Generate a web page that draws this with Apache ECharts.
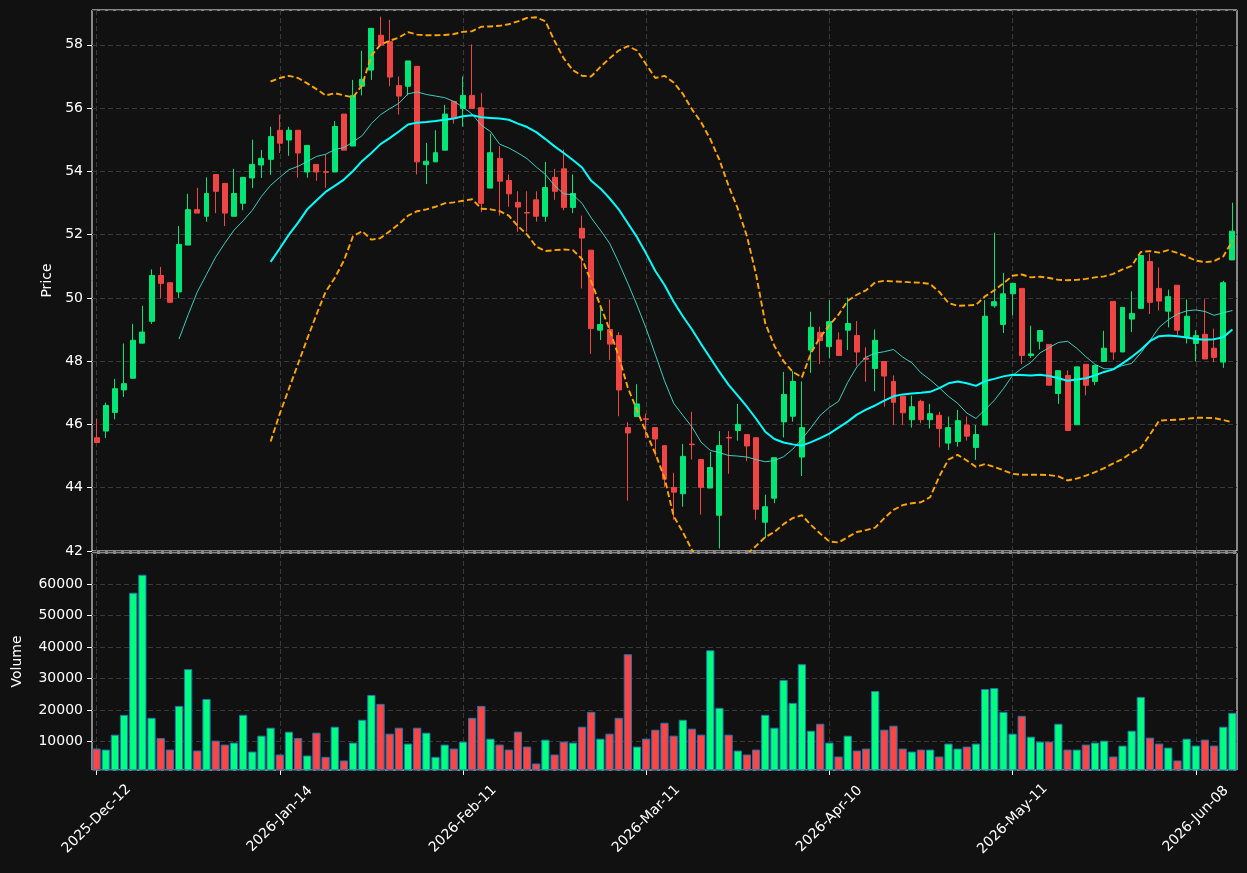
<!DOCTYPE html>
<html>
<head>
<meta charset="utf-8">
<script src="https://cdn.jsdelivr.net/npm/echarts@6/dist/echarts.min.js"></script>
<style>
html,body{margin:0;padding:0;background:#111111;}
#chart{width:1247px;height:873px;}
</style>
</head>
<body>
<div id="chart"></div>
<script>
// ---- trading calendar (category labels) ----
const startDate = '2025-12-12';
const numDays = 125;
const holidays = ['2025-12-25','2025-12-26','2026-01-01','2026-04-03','2026-04-06','2026-05-01'];
const monthNames = ['Jan','Feb','Mar','Apr','May','Jun','Jul','Aug','Sep','Oct','Nov','Dec'];

// ---- OHLC ----
const open = [45.58,45.79,46.38,47.09,47.46,48.57,49.26,50.71,50.48,50.19,51.67,52.79,52.58,53.90,53.62,52.58,52.99,53.79,54.20,54.38,
55.30,54.99,55.30,53.98,54.22,53.99,53.98,55.81,54.80,56.69,57.20,58.30,58.10,56.71,56.69,57.32,54.21,54.30,54.67,56.21,
55.99,56.40,56.01,53.47,54.41,53.71,53.02,52.70,53.10,52.58,53.81,54.08,52.86,52.20,51.51,48.98,49.00,48.81,45.90,46.25,
46.18,45.90,45.33,44.01,43.81,45.38,44.89,43.99,43.13,45.59,45.81,45.68,45.58,42.91,43.67,46.08,46.26,44.97,48.35,48.91,
48.46,48.67,48.98,48.81,48.10,47.77,47.99,47.36,46.89,46.15,46.73,46.15,46.29,45.41,45.46,45.98,45.27,45.98,49.75,49.16,
50.13,50.30,48.18,48.63,48.53,46.98,47.55,45.99,47.90,47.36,47.99,49.89,48.29,49.33,49.67,51.15,50.30,49.58,50.40,48.78,
48.56,48.85,48.41,47.97,51.20];
const high = [46.18,46.69,47.44,48.56,49.18,49.75,50.90,50.98,50.48,52.27,53.29,53.48,53.81,53.90,53.62,54.08,53.81,55.00,54.68,55.41,
55.79,55.41,55.30,54.82,54.22,54.53,55.59,55.81,56.89,57.81,58.52,58.89,58.79,57.00,57.49,57.32,54.90,55.30,56.10,56.21,
57.00,58.01,56.48,55.19,54.80,53.90,53.37,53.37,53.37,54.30,54.08,54.69,53.90,52.60,51.51,49.77,49.95,48.92,46.07,47.27,
46.34,45.90,45.33,44.47,45.38,46.40,44.89,45.13,45.79,45.79,46.65,45.68,45.58,43.78,44.95,47.66,47.69,47.36,49.56,49.09,
49.93,48.91,50.01,49.27,48.44,49.00,47.99,47.55,46.89,46.91,46.78,46.65,46.40,46.25,46.46,46.25,45.98,49.93,52.06,50.79,
50.46,50.30,49.12,48.97,48.53,47.70,47.71,47.82,47.90,47.86,48.96,49.89,49.70,50.21,51.34,51.40,50.96,50.26,50.40,49.95,
48.98,49.95,49.03,50.54,53.01];
const low = [45.43,45.57,46.16,46.87,47.46,48.57,49.18,49.99,49.86,49.99,51.67,52.68,52.41,52.68,52.27,52.58,52.77,53.47,53.79,53.89,
54.58,54.49,53.80,53.80,53.70,53.48,53.98,54.67,54.80,56.40,56.89,57.99,56.69,55.79,56.40,53.90,53.60,54.30,54.67,55.51,
55.41,55.99,52.71,53.47,52.60,52.88,52.09,52.09,52.41,52.41,53.10,52.77,52.68,50.30,48.23,48.67,48.04,46.26,43.59,46.25,
45.57,44.99,44.03,42.99,43.40,44.89,43.15,43.99,42.08,44.44,45.49,44.84,42.99,42.41,43.51,45.59,46.09,44.37,47.63,47.91,
48.10,48.18,48.35,47.86,47.35,47.05,46.56,45.99,45.99,45.90,46.04,45.87,45.27,45.19,45.30,45.49,44.88,45.98,49.69,48.89,
49.45,47.91,48.10,48.37,47.24,46.65,45.79,45.99,46.92,47.24,47.99,48.04,48.29,48.92,49.67,49.49,49.60,49.07,48.81,48.56,
47.99,48.07,47.97,47.79,51.20];
const close = [45.43,46.60,47.13,47.29,48.66,48.92,50.71,50.46,49.86,51.69,52.79,52.68,53.30,53.37,52.68,53.30,53.81,54.22,54.41,55.10,
54.89,55.30,54.58,54.82,53.98,53.97,55.42,54.67,56.40,56.91,58.52,57.99,56.98,56.38,57.49,54.30,54.32,54.59,55.81,55.68,
56.40,55.99,52.99,54.59,53.69,53.29,52.87,52.68,52.58,53.49,53.37,52.86,53.30,51.89,49.03,49.16,48.54,47.09,45.73,46.65,
46.16,45.54,44.27,43.86,44.99,45.36,44.01,44.64,45.33,45.57,46.00,45.32,43.32,43.40,44.95,46.95,47.36,45.90,49.07,48.65,
49.25,48.18,49.19,48.29,48.06,48.66,47.53,46.70,46.37,46.56,46.15,46.34,45.87,45.90,46.12,45.63,45.68,49.42,49.88,50.13,
50.46,48.18,48.23,48.97,47.24,47.70,45.81,47.82,47.24,47.86,48.41,48.29,49.70,49.51,51.34,49.86,49.90,50.04,48.98,49.42,
48.81,48.07,48.12,50.48,52.11];

// ---- volume ----
const volume = [7800,7480,12200,18500,57200,62900,17550,11150,7480,21330,32980,7170,23540,10310,9060,9690,18500,6850,11890,14410,
5910,13150,11150,5590,12830,5170,14720,4020,9690,16930,24800,21960,12520,14410,9370,14410,12830,5170,9060,7800,
10000,17550,21330,10940,9060,7480,13150,8430,3070,10630,5910,10000,9690,14720,19440,10940,12520,17550,37700,8430,
10940,13780,15980,11890,16930,14100,12200,38960,20700,12200,7170,5910,7480,18500,14410,29520,22280,34550,13460,15670,
9690,5280,11890,7170,7800,26050,13780,15040,7800,6850,7480,7480,5280,9370,7800,8430,9370,26680,27000,19440,
12520,18180,11570,10000,10000,15670,7480,7480,9060,9690,10310,5280,8740,13460,24170,11260,9370,8110,4020,10940,
8740,10630,8740,14720,19130];

// ---- indicator lines (null = not drawn) ----
const N = null;
const ma10 = [N,N,N,N,N,N,N,N,N,48.70,49.47,50.19,50.74,51.29,51.73,52.14,52.44,52.77,53.21,53.56,
53.81,54.05,54.16,54.31,54.47,54.54,54.69,54.75,54.93,55.13,55.51,55.79,55.98,56.15,56.45,56.51,56.43,56.38,56.33,56.21,
56.03,55.81,55.46,55.26,54.86,54.74,54.58,54.40,54.14,53.90,53.55,53.29,53.26,52.99,52.53,52.14,51.73,51.12,50.46,49.77,
49.03,48.21,47.38,46.67,46.29,45.92,45.44,45.18,45.11,45.02,45.00,44.97,44.89,44.82,44.86,44.98,45.22,45.54,45.90,46.29,
46.54,46.73,47.33,47.82,48.13,48.25,48.30,48.37,48.13,47.95,47.63,47.41,47.16,46.89,46.67,46.36,46.19,46.47,46.76,47.13,
47.55,47.77,47.96,48.26,48.43,48.59,48.63,48.41,48.14,47.90,47.76,47.76,47.86,47.93,48.26,48.65,49.07,49.31,49.49,49.59,
49.62,49.57,49.45,49.53,49.60];
const ma20 = [N,N,N,N,N,N,N,N,N,N,N,N,N,N,N,N,N,N,N,51.14,
51.56,52.00,52.38,52.80,53.08,53.35,53.54,53.74,54.01,54.33,54.58,54.86,55.05,55.26,55.48,55.54,55.56,55.59,55.63,55.67,
55.74,55.77,55.71,55.69,55.67,55.63,55.51,55.40,55.24,55.02,54.79,54.58,54.36,54.12,53.70,53.46,53.15,52.80,52.36,51.92,
51.40,50.85,50.41,49.88,49.42,49.00,48.54,48.10,47.66,47.25,46.91,46.56,46.18,45.77,45.54,45.43,45.37,45.33,45.44,45.57,
45.71,45.90,46.09,46.31,46.47,46.60,46.75,46.89,46.95,46.98,47.00,47.03,47.15,47.30,47.36,47.30,47.22,47.37,47.44,47.52,
47.57,47.56,47.55,47.57,47.53,47.46,47.38,47.42,47.46,47.55,47.66,47.74,47.93,48.13,48.36,48.63,48.79,48.81,48.79,48.75,
48.70,48.68,48.69,48.76,49.00];
const upperBand = [N,N,N,N,N,N,N,N,N,N,N,N,N,N,N,N,N,N,N,56.84,
56.95,57.02,56.95,56.78,56.60,56.40,56.47,56.40,56.34,56.73,57.66,58.01,58.13,58.23,58.40,58.32,58.30,58.30,58.31,58.34,
58.41,58.43,58.57,58.58,58.60,58.65,58.74,58.85,58.87,58.74,58.12,57.57,57.20,57.02,57.00,57.30,57.57,57.82,57.96,57.82,
57.38,56.95,57.02,56.81,56.45,55.96,55.55,55.02,54.36,53.54,52.82,51.95,50.74,49.20,48.48,48.00,47.66,47.49,48.26,48.76,
49.14,49.47,49.91,50.10,50.24,50.49,50.54,50.52,50.51,50.49,50.48,50.44,50.19,49.84,49.75,49.76,49.78,50.05,50.24,50.46,
50.70,50.74,50.65,50.67,50.63,50.57,50.56,50.57,50.60,50.65,50.68,50.76,50.90,51.01,51.45,51.48,51.43,51.51,51.42,51.31,
51.18,51.13,51.16,51.31,51.81];
const lowerBand = [N,N,N,N,N,N,N,N,N,N,N,N,N,N,N,N,N,N,N,45.46,
46.34,47.13,47.92,48.71,49.47,50.19,50.63,51.18,51.95,52.11,51.84,51.89,52.11,52.33,52.60,52.74,52.80,52.88,52.99,53.02,
53.07,53.12,52.82,52.80,52.74,52.60,52.27,52.00,51.62,51.48,51.51,51.53,51.51,51.23,50.52,49.75,49.00,48.15,47.16,46.45,
45.74,45.08,44.31,43.10,42.60,42.03,41.60,41.30,41.10,41.20,41.50,41.90,42.16,42.44,42.60,42.85,43.04,43.13,42.82,42.55,
42.30,42.27,42.44,42.60,42.66,42.74,43.04,43.30,43.45,43.51,43.54,43.70,44.36,44.89,45.04,44.86,44.66,44.75,44.66,44.55,
44.44,44.41,44.41,44.41,44.40,44.36,44.23,44.29,44.38,44.49,44.62,44.77,44.91,45.11,45.26,45.68,46.12,46.14,46.15,46.18,
46.21,46.21,46.20,46.14,46.07];

// ---- build categories ----
const dates = [];
(function(){
  let d = new Date(startDate + 'T00:00:00Z');
  while (dates.length < numDays) {
    const wd = d.getUTCDay();
    const iso = d.toISOString().slice(0,10);
    if (wd !== 0 && wd !== 6 && holidays.indexOf(iso) < 0) {
      const dd = String(d.getUTCDate()).padStart(2,'0');
      dates.push(d.getUTCFullYear() + '-' + monthNames[d.getUTCMonth()] + '-' + dd);
    }
    d = new Date(d.getTime() + 86400000);
  }
})();

const UP = '#00E676', DOWN = '#F04545';
const VUP = '#00FF7F', VDOWN = '#FF4444';
const candleData = open.map((o,i)=>[o, close[i], low[i], high[i]]);
const volData = volume.map((v,i)=>({value: v, itemStyle: {color: close[i] >= open[i] ? VUP : VDOWN}}));

const FONT = 'DejaVu Sans';
const gridLine = {show: true, lineStyle: {color: '#3a3a3a', type: [5, 3], width: 1}};

const chart = echarts.init(document.getElementById('chart'), null, {renderer: 'canvas'});
chart.setOption({
  backgroundColor: '#111111',
  animation: false,
  textStyle: {fontFamily: FONT},
  grid: [
    {left: 92, top: 10, width: 1145, height: 541, show: true, borderColor: '#ffffff', borderWidth: 1, backgroundColor: 'transparent'},
    {left: 92, top: 553, width: 1145, height: 217, show: true, borderColor: '#ffffff', borderWidth: 1, backgroundColor: 'transparent'}
  ],
  xAxis: [
    {type: 'category', gridIndex: 0, data: dates, boundaryGap: true,
     axisLine: {show: false}, axisTick: {show: false}, axisLabel: {show: false},
     splitLine: Object.assign({interval: 19, alignWithLabel: true}, gridLine)},
    {type: 'category', gridIndex: 1, data: dates, boundaryGap: true,
     axisLine: {show: false},
     axisTick: {show: true, interval: 19, alignWithLabel: true, length: 5, lineStyle: {color: '#ffffff'}},
     axisLabel: {show: true, interval: 19, rotate: 45, align: 'center', verticalAlign: 'middle', margin: 49,
                 color: '#ffffff', fontSize: 14, fontFamily: FONT},
     splitLine: Object.assign({interval: 19, alignWithLabel: true}, gridLine)}
  ],
  yAxis: [
    {type: 'value', gridIndex: 0, min: 42, max: 59.1, interval: 2, scale: true,
     name: 'Price', nameLocation: 'middle', nameGap: 38, nameRotate: 90,
     nameTextStyle: {color: '#ffffff', fontSize: 14, fontFamily: FONT},
     axisLine: {show: false},
     axisTick: {show: true, length: 5, lineStyle: {color: '#ffffff'}},
     axisLabel: {color: '#ffffff', fontSize: 14, fontFamily: FONT, margin: 9, showMaxLabel: false},
     splitLine: gridLine},
    {type: 'value', gridIndex: 1, min: 1000, max: 69800, splitNumber: 7,
     name: 'Volume', nameLocation: 'middle', nameGap: 68, nameRotate: 90,
     nameTextStyle: {color: '#ffffff', fontSize: 14, fontFamily: FONT},
     axisLine: {show: false},
     axisTick: {show: true, length: 5, lineStyle: {color: '#ffffff'}},
     axisLabel: {color: '#ffffff', fontSize: 14, fontFamily: FONT, margin: 9, showMaxLabel: false, showMinLabel: false,
                 formatter: function (v) { return String(Math.round(v)); }},
     splitLine: gridLine}
  ],
  series: [
    {type: 'candlestick', xAxisIndex: 0, yAxisIndex: 0, data: candleData, barWidth: '60%',
     itemStyle: {color: UP, color0: DOWN, borderColor: UP, borderColor0: DOWN, borderWidth: 1}},
    {type: 'line', xAxisIndex: 0, yAxisIndex: 0, data: ma10, showSymbol: false, symbol: 'none', clip: true,
     lineStyle: {color: '#40E0D0', width: 1, opacity: 0.9}},
    {type: 'line', xAxisIndex: 0, yAxisIndex: 0, data: ma20, showSymbol: false, symbol: 'none', clip: true,
     lineStyle: {color: '#00FFFF', width: 2}},
    {type: 'line', xAxisIndex: 0, yAxisIndex: 0, data: upperBand, showSymbol: false, symbol: 'none', clip: true,
     lineStyle: {color: '#FFA500', width: 1.9, type: [6, 3]}},
    {type: 'line', xAxisIndex: 0, yAxisIndex: 0, data: lowerBand, showSymbol: false, symbol: 'none', clip: true,
     lineStyle: {color: '#FFA500', width: 1.9, type: [6, 3]}},
    {type: 'bar', xAxisIndex: 1, yAxisIndex: 1, data: volData, barCategoryGap: '10%',
     itemStyle: {borderColor: '#1F77B4', borderWidth: 1}}
  ]
});
</script>
</body>
</html>
